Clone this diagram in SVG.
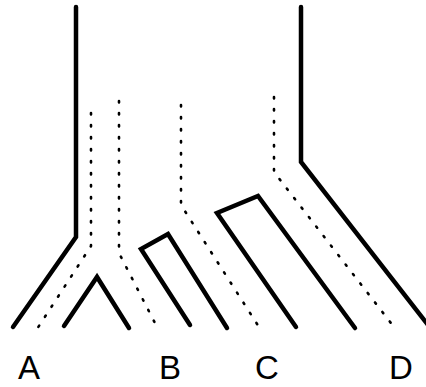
<svg xmlns="http://www.w3.org/2000/svg" width="426" height="387" viewBox="0 0 426 387">
<style>
.s{fill:none;stroke:#000;stroke-width:4.5;stroke-linecap:round;stroke-linejoin:miter}
.d{fill:none;stroke:#000;stroke-width:2.6;stroke-linecap:round;stroke-linejoin:round;stroke-dasharray:1.5 10.5}
text{font-family:"Liberation Sans",Arial,sans-serif;font-size:33px;text-anchor:middle;fill:#000}
</style>
<rect width="426" height="387" fill="#fff"/>
<g id="connectors">
<polyline id="tree-left" class="s" points="76,7 76,237 13,327"/>
<polyline id="tree-right" class="s" points="301,7 301,162 428,325"/>
<polyline id="dot1" class="d" points="91,113 91,246 37,329"/>
<polyline id="dot2" class="d" points="119,101 119,253 157,327"/>
<polyline id="dot3" class="d" points="181,105 181,205 259,327"/>
<polyline id="dot4" class="d" points="274,97 274,172 394,327"/>
</g>
<g id="node-vee"><polyline class="s" points="64,326 97,277 129,328"/></g>
<g id="node-b-shape"><polyline class="s" points="190,325 141,249 168,234 227,328"/></g>
<g id="node-c-shape"><polyline class="s" points="296,327 217,213 258,196 355,328"/></g>
<g id="label-A"><text x="29" y="379">A</text></g>
<g id="label-B"><text x="170" y="379">B</text></g>
<g id="label-C"><text x="267" y="379">C</text></g>
<g id="label-D"><text x="401" y="379">D</text></g>
</svg>
